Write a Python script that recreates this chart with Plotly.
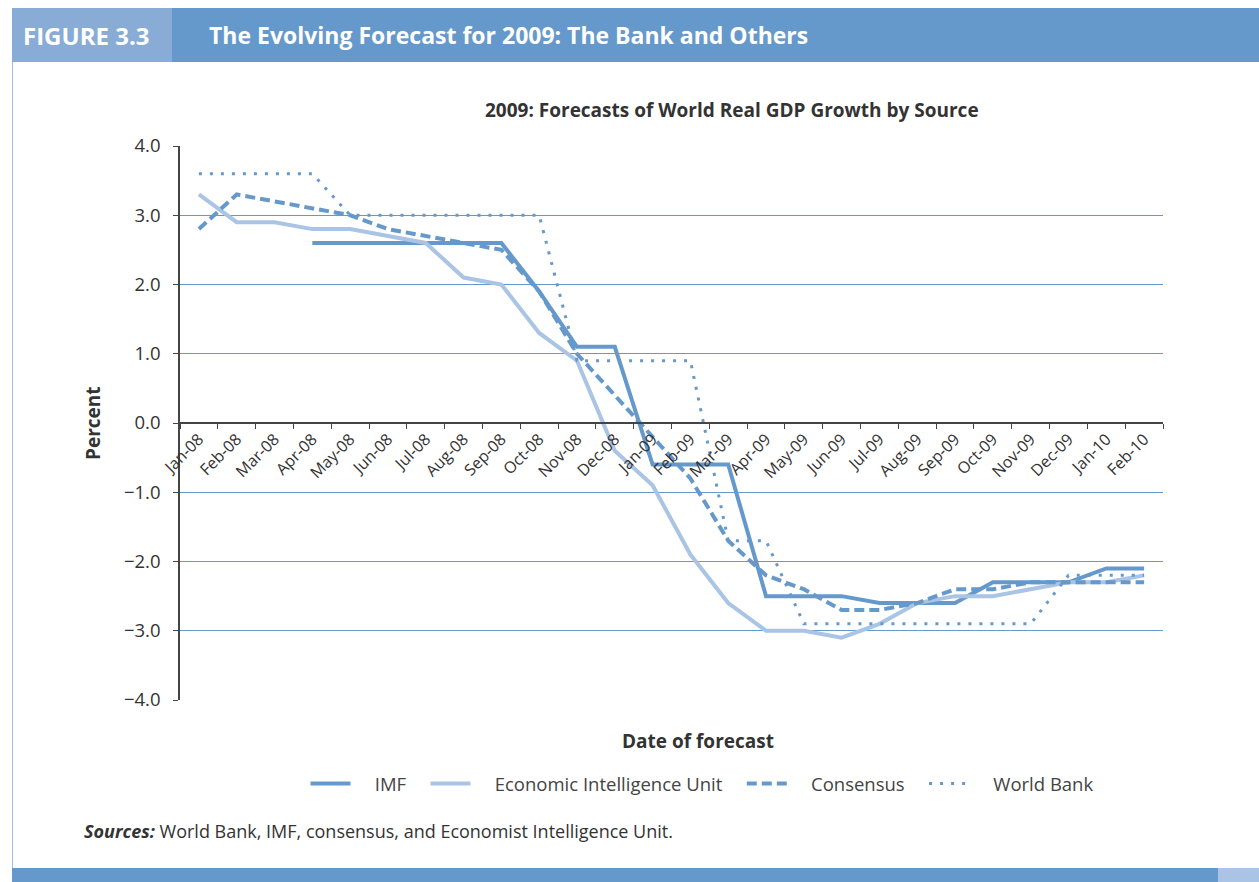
import plotly.graph_objects as go

# Forecast dates (monthly vintages)
months = ["Jan-08", "Feb-08", "Mar-08", "Apr-08", "May-08", "Jun-08", "Jul-08", "Aug-08",
          "Sep-08", "Oct-08", "Nov-08", "Dec-08", "Jan-09", "Feb-09", "Mar-09", "Apr-09",
          "May-09", "Jun-09", "Jul-09", "Aug-09", "Sep-09", "Oct-09", "Nov-09", "Dec-09",
          "Jan-10", "Feb-10"]

# 2009 world real GDP growth forecasts, percent
imf = [None, None, None, 2.6, 2.6, 2.6, 2.6, 2.6, 2.6, 1.9, 1.1, 1.1, -0.6, -0.6, -0.6,
       -2.5, -2.5, -2.5, -2.6, -2.6, -2.6, -2.3, -2.3, -2.3, -2.1, -2.1]
eiu = [3.3, 2.9, 2.9, 2.8, 2.8, 2.7, 2.6, 2.1, 2.0, 1.3, 0.9, -0.4, -0.9, -1.9, -2.6,
       -3.0, -3.0, -3.1, -2.9, -2.6, -2.5, -2.5, -2.4, -2.3, -2.3, -2.2]
consensus = [2.8, 3.3, 3.2, 3.1, 3.0, 2.8, 2.7, 2.6, 2.5, 1.9, 1.0, 0.4, -0.2, -0.8, -1.7,
             -2.2, -2.4, -2.7, -2.7, -2.6, -2.4, -2.4, -2.3, -2.3, -2.3, -2.3]
world_bank = [3.6, 3.6, 3.6, 3.6, 3.0, 3.0, 3.0, 3.0, 3.0, 3.0, 0.9, 0.9, 0.9, 0.9, -1.7,
              -1.7, -2.9, -2.9, -2.9, -2.9, -2.9, -2.9, -2.9, -2.2, -2.2, -2.2]

series_names = ["IMF", "Economic Intelligence Unit", "Consensus", "World Bank"]

y_ticks = [4, 3, 2, 1, 0, -1, -2, -3, -4]

W, H = 1259, 882
L, R, T, B = 180, 1163, 146, 700  # plot area in pixels

BLUE = "#6699cb"
LIGHT = "#a9c4e4"
HEAD_LIGHT = "#88acd6"
TEXT = "#333333"
FONT = "Open Sans"
NB = "\u00a0"


def px(x):
    return (x - L) / (R - L)


def py(y):
    return (B - y) / (B - T)


def legend_label(name, last=False):
    # pad legend entries so the sample/text spacing opens up
    return NB * 4 + name + ("" if last else NB * 3)


fig = go.Figure()
fig.add_trace(go.Scatter(x=months, y=imf, name=legend_label(series_names[0]), mode="lines",
                         line=dict(color=BLUE, width=4)))
fig.add_trace(go.Scatter(x=months, y=eiu, name=legend_label(series_names[1]), mode="lines",
                         line=dict(color=LIGHT, width=4)))
fig.add_trace(go.Scatter(x=months, y=consensus, name=legend_label(series_names[2]), mode="lines",
                         line=dict(color=BLUE, width=4, dash="10px,5px")))
fig.add_trace(go.Scatter(x=months, y=world_bank, name=legend_label(series_names[3], True),
                         mode="lines", line=dict(color=BLUE, width=3, dash="3px,8px")))

shapes = [
    # header band
    dict(type="rect", xref="paper", yref="paper", x0=px(12), x1=px(W), y0=py(62), y1=py(8),
         fillcolor=BLUE, line_width=0, layer="below"),
    dict(type="rect", xref="paper", yref="paper", x0=px(12), x1=px(172), y0=py(62), y1=py(8),
         fillcolor=HEAD_LIGHT, line_width=0, layer="below"),
    # footer band
    dict(type="rect", xref="paper", yref="paper", x0=px(12), x1=px(1218), y0=py(H), y1=py(868),
         fillcolor=BLUE, line_width=0, layer="below"),
    dict(type="rect", xref="paper", yref="paper", x0=px(1218), x1=px(W), y0=py(H), y1=py(868),
         fillcolor=LIGHT, line_width=0, layer="below"),
    # left rule
    dict(type="line", xref="paper", yref="paper", x0=px(12.5), x1=px(12.5), y0=py(62), y1=py(868),
         line=dict(color="#9dbde2", width=1), layer="below"),
]

annotations = [
    dict(text="<b>FIGURE 3.3</b>", x=px(21), y=py(35), xref="paper", yref="paper",
         xanchor="left", yanchor="middle", showarrow=False,
         font=dict(family=FONT, size=24, color="white")),
    dict(text="<b>The Evolving Forecast for 2009: The Bank and Others</b>", x=px(207), y=py(35),
         xref="paper", yref="paper", xanchor="left", yanchor="middle", showarrow=False,
         font=dict(family=FONT, size=23, color="white")),
    dict(text="<b>2009: Forecasts of World Real GDP Growth by Source</b>", x=px(732), y=py(110),
         xref="paper", yref="paper", xanchor="center", yanchor="middle", showarrow=False,
         font=dict(family=FONT, size=19, color=TEXT)),
    dict(text="<b>Percent</b>", x=px(93), y=py(423), xref="paper", yref="paper",
         xanchor="center", yanchor="middle", textangle=-90, showarrow=False,
         font=dict(family=FONT, size=19, color=TEXT)),
    dict(text="<b>Date of forecast</b>", x=px(698), y=py(741), xref="paper", yref="paper",
         xanchor="center", yanchor="middle", showarrow=False,
         font=dict(family=FONT, size=19, color=TEXT)),
    dict(text="<b><i>Sources:</i></b> World Bank, IMF, consensus, and Economist Intelligence Unit.",
         x=px(82), y=py(831), xref="paper", yref="paper", xanchor="left", yanchor="middle",
         showarrow=False, font=dict(family=FONT, size=18, color=TEXT)),
]

fig.update_layout(
    width=W, height=H,
    margin=dict(l=L, r=W - R, t=T, b=H - B, pad=0),
    paper_bgcolor="white", plot_bgcolor="white",
    font=dict(family=FONT, color=TEXT),
    showlegend=True,
    legend=dict(orientation="h", x=px(702), y=py(784), xanchor="center", yanchor="middle",
                itemwidth=40, font=dict(family=FONT, size=18.5, color="#444444"),
                bgcolor="rgba(0,0,0,0)"),
    xaxis=dict(type="category", categoryorder="array", categoryarray=months,
               anchor="free", position=0.5, showline=True, linecolor="#444444", linewidth=1.5,
               ticks="outside", tickson="boundaries", ticklen=5, tickcolor="#444444",
               tickangle=-45, showgrid=False, zeroline=False,
               tickfont=dict(family=FONT, size=16, color=TEXT), range=[-0.5, 25.5]),
    yaxis=dict(range=[-4, 4], tickvals=y_ticks, tickformat=".1f", showline=True,
               linecolor="#444444", linewidth=1.5, ticks="outside", ticklen=5,
               tickcolor="#444444", showgrid=True, gridcolor=BLUE, gridwidth=1,
               zeroline=False, ticklabelstandoff=9,
               tickfont=dict(family=FONT, size=18.5, color=TEXT)),
    shapes=shapes,
    annotations=annotations,
)

fig.write_html("out.html")
